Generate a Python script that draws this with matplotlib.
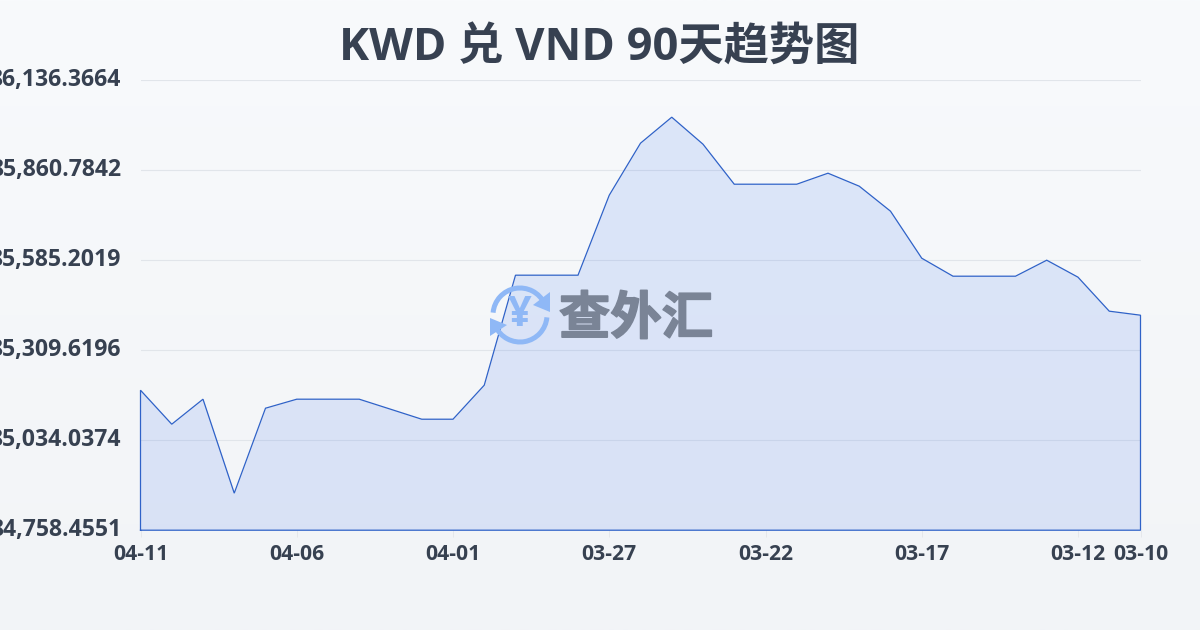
import numpy as np
import matplotlib
matplotlib.use('Agg')
import matplotlib.pyplot as plt
import matplotlib.patheffects as pe
from matplotlib.patches import Arc, Polygon

plt.rcParams['font.family'] = ['Open Sans', 'Noto Sans CJK SC', 'DejaVu Sans']

title = 'KWD 兑 VND 90天趋势图'
dates = ['04-11', '04-10', '04-09', '04-08', '04-07', '04-06', '04-05', '04-04', '04-03',
         '04-02', '04-01', '03-31', '03-30', '03-29', '03-28', '03-27', '03-26', '03-25',
         '03-24', '03-23', '03-22', '03-21', '03-20', '03-19', '03-18', '03-17', '03-16',
         '03-15', '03-14', '03-13', '03-12', '03-11', '03-10']
rates = [85187.1, 85083.0, 85159.6, 84871.8, 85132.0, 85159.6, 85159.6, 85159.6, 85129.0,
         85098.3, 85098.3, 85202.5, 85539.3, 85539.3, 85539.3, 85784.2, 85943.5, 86023.1,
         85940.4, 85817.9, 85817.9, 85817.9, 85851.6, 85811.8, 85735.3, 85591.3, 85536.2,
         85536.2, 85536.2, 85585.2, 85533.2, 85429.1, 85416.8]
y_ticks = [84758.4551, 85034.0374, 85309.6196, 85585.2019, 85860.7842, 86136.3664]
x_labels = ['04-11', '04-06', '04-01', '03-27', '03-22', '03-17', '03-12', '03-10']

text_col = '#374151'
line_col = '#2f62c8'

fig = plt.figure(figsize=(12, 6.3), dpi=100)

# background gradient
bg = fig.add_axes([0, 0, 1, 1], zorder=0)
bg.imshow(np.linspace(0, 1, 256).reshape(-1, 1), aspect='auto', extent=[0, 1200, 630, 0],
          cmap=matplotlib.colors.LinearSegmentedColormap.from_list('bg', ['#f8fafc', '#f2f4f7']))
bg.axis('off')

ax = fig.add_axes([140.5 / 1200, 99.8 / 630, 1000 / 1200, 450 / 630], zorder=1)
ax.patch.set_alpha(0)
x = np.arange(len(rates))
ax.fill_between(x, rates, y_ticks[0], color='#2563eb', alpha=0.125, lw=0, zorder=2)
ax.plot(np.r_[x[0], x, x[-1], x[0]], np.r_[y_ticks[0], rates, y_ticks[0], y_ticks[0]],
        color=line_col, lw=0.9, zorder=4, solid_joinstyle='miter', clip_on=False)
ax.set_xlim(0, len(rates) - 1)
ax.set_ylim(y_ticks[0], y_ticks[-1])

ax.set_yticks(y_ticks)
ax.set_yticklabels([f'{v:,.4f}' for v in y_ticks], fontsize=16.6, fontweight='bold', color=text_col,
                    va='center')
ax.set_xticks([dates.index(d) for d in x_labels])
ax.set_xticklabels(x_labels, fontsize=15.2, fontweight='bold', color=text_col)
ax.tick_params(axis='y', length=0, pad=14)
ax.tick_params(axis='x', length=5, width=0.7, color='#e5e7eb', pad=5, direction='out')
ax.grid(axis='y', color='#e1e5ea', lw=0.8, zorder=1)
ax.set_axisbelow(True)
for s in ax.spines.values():
    s.set_visible(False)

fig.text(599 / 1200, 1 - 49.5 / 630, title, ha='center', va='center', fontsize=32.6,
         fontweight='bold', color=text_col)

# watermark logo, in pixel coordinates
wm = fig.add_axes([0, 0, 1, 1], zorder=2)
wm.set_xlim(0, 1200)
wm.set_ylim(630, 0)
wm.axis('off')
blue = '#8fb8f6'
wm.add_patch(Arc((520, 315), 54, 54, theta1=185, theta2=335, color=blue, lw=3.6))
wm.add_patch(Arc((520, 315), 54, 54, theta1=5, theta2=155, color=blue, lw=3.6))
wm.add_patch(Polygon([[550, 292], [550, 312], [533, 305]], closed=True, color=blue, lw=0))
wm.add_patch(Polygon([[490, 318], [490, 336], [507, 325]], closed=True, color=blue, lw=0))
wm.text(520, 316, '¥', ha='center', va='center', fontsize=30, fontweight='bold', color=blue)
wm.text(636, 321, '查外汇', ha='center', va='center', fontsize=37, fontweight='bold', color='#7a8496',
        path_effects=[pe.withStroke(linewidth=1.2, foreground='#7a8496')])

fig.savefig('out.png', dpi=100)
